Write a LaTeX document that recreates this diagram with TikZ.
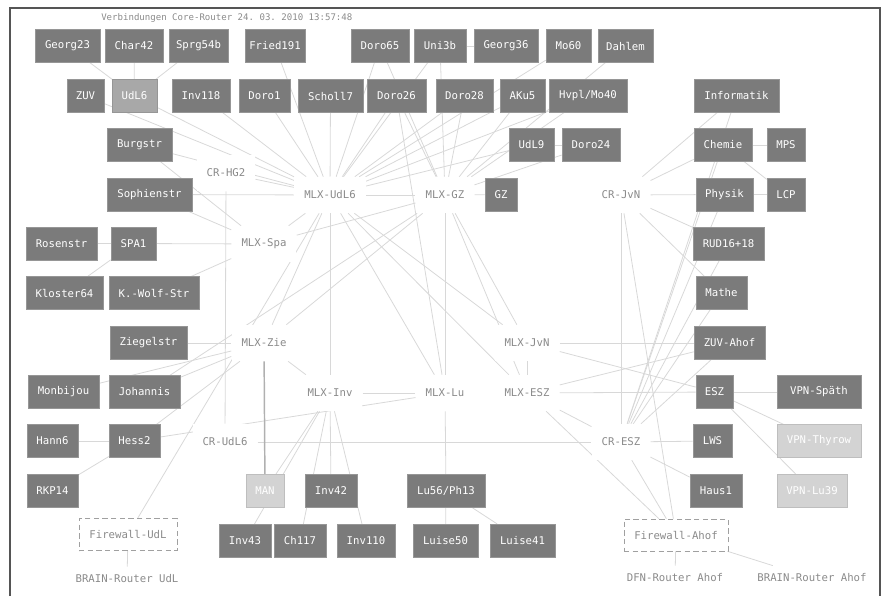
\documentclass[tikz,border=0pt]{standalone}
\usepackage{fontspec}
\setmonofont{DejaVu Sans Mono}
\usetikzlibrary{backgrounds}
\definecolor{boxgray}{HTML}{7B7B7B}
\definecolor{boxline}{HTML}{969696}
\definecolor{lightbox}{HTML}{A8A8A8}
\definecolor{palebox}{HTML}{D3D3D3}
\definecolor{labgray}{HTML}{8A8A8A}
\definecolor{edgegray}{HTML}{D8D8D8}
\definecolor{dashgray}{HTML}{A0A0A0}
\definecolor{manline}{HTML}{B0B0B0}
\definecolor{framegray}{HTML}{555555}
\begin{document}
\begin{tikzpicture}[x=0.75pt,y=-0.75pt,
  txt/.style={font=\ttfamily\fontsize{8}{9}\selectfont},
  box/.style={txt,draw=boxline,fill=boxgray,text=white,inner sep=0pt,minimum height=24.4pt},
  lbox/.style={box,fill=lightbox},
  pbox/.style={box,fill=palebox,draw=palebox!90!black},
  bw/.style={minimum width=#1*0.75pt},
  rtr/.style={txt,fill=white,text=labgray,inner xsep=7.5pt,inner ysep=0pt,minimum height=27pt},
  fw/.style={txt,draw=dashgray,dash pattern=on 4pt off 2.5pt,text=labgray,inner sep=0pt,minimum height=24pt},
  plain/.style={txt,text=labgray,inner xsep=2pt,inner ysep=6pt},
  ttl/.style={font=\ttfamily\fontsize{6.8}{8}\selectfont,text=labgray,inner sep=0pt},
  edge/.style={draw=edgegray,line width=0.6pt},
  thick edge/.style={draw=manline,line width=1.1pt},
  frame/.style={draw=framegray,line width=1.2pt}]
\useasboundingbox (0,0) rectangle (885,596);
\draw[frame] (10,596) -- (10,8) -- (880,8) -- (880,596);
\node[ttl,anchor=west] (title) at (101,18) {Verbindungen Core-Router 24. 03. 2010 13:57:48};

% row 1
\node[box,bw=65] (georg23) at (67.5,46) {Georg23};
\node[box,bw=58] (char42) at (134,46) {Char42};
\node[box,bw=59] (sprg54b) at (198.5,46) {Sprg54b};
\node[box,bw=60] (fried191) at (275,46) {Fried191};
\node[box,bw=58] (doro65) at (380,46) {Doro65};
\node[box,bw=52] (uni3b) at (440,46) {Uni3b};
\node[box,bw=64] (georg36) at (506,46) {Georg36};
\node[box,bw=45] (mo60) at (568.5,46) {Mo60};
\node[box,bw=55] (dahlem) at (625.5,46) {Dahlem};
% row 2
\node[box,bw=37] (zuv) at (85.5,96) {ZUV};
\node[lbox,bw=45] (udl6) at (134.5,96) {UdL6};
\node[box,bw=58] (inv118) at (201,96) {Inv118};
\node[box,bw=51] (doro1) at (264.5,96) {Doro1};
\node[box,bw=65] (scholl7) at (330.5,96) {Scholl7};
\node[box,bw=59] (doro26) at (396.5,96) {Doro26};
\node[box,bw=57] (doro28) at (464.5,96) {Doro28};
\node[box,bw=45] (aku5) at (522.5,96) {AKu5};
\node[box,bw=78] (hvpl) at (588,96) {Hvpl/Mo40};
\node[box,bw=85] (informatik) at (736.5,96) {Informatik};
% row 3
\node[box,bw=65] (burgstr) at (139.5,145) {Burgstr};
\node[box,bw=45] (udl9) at (531.5,145) {UdL9};
\node[box,bw=58] (doro24) at (591,145) {Doro24};
\node[box,bw=58] (chemie) at (723,145) {Chemie};
\node[box,bw=38] (mps) at (786,145) {MPS};
\node[rtr] (crhg2) at (226,173) {CR-HG2};
% row 4
\node[box,bw=85] (sophienstr) at (149.5,194.5) {Sophienstr};
\node[rtr] (mlxudl6) at (330,195) {MLX-UdL6};
\node[rtr] (mlxgz) at (445,195) {MLX-GZ};
\node[box,bw=32] (gz) at (501,194.5) {GZ};
\node[rtr] (crjvn) at (621,195) {CR-JvN};
\node[box,bw=57] (physik) at (724.5,194.5) {Physik};
\node[box,bw=38] (lcp) at (786,194.5) {LCP};
% row 5
\node[box,bw=71] (rosenstr) at (61.5,243.5) {Rosenstr};
\node[box,bw=45] (spa1) at (133.5,243.5) {SPA1};
\node[rtr] (mlxspa) at (264,244) {MLX-Spa};
\node[box,bw=71] (rud) at (728.5,243.5) {RUD16+18};
% row 6
\node[box,bw=77] (kloster64) at (64.5,293) {Kloster64};
\node[box,bw=90] (kwolf) at (154,293) {K.-Wolf-Str};
\node[box,bw=51] (mathe) at (721.5,293) {Mathe};
% row 7
\node[box,bw=77] (ziegelstr) at (148.5,343) {Ziegelstr};
\node[rtr] (mlxzie) at (264,343) {MLX-Zie};
\node[rtr] (mlxjvn) at (527,343) {MLX-JvN};
\node[box,bw=71] (zuvahof) at (729.5,343) {ZUV-Ahof};
% row 8
\node[box,bw=71] (monbijou) at (63.5,392) {Monbijou};
\node[box,bw=71] (johannis) at (144.5,392) {Johannis};
\node[rtr] (mlxinv) at (330,393) {MLX-Inv};
\node[rtr] (mlxlu) at (445,393) {MLX-Lu};
\node[rtr] (mlxesz) at (527,393) {MLX-ESZ};
\node[box,bw=37] (esz) at (714.5,392) {ESZ};
\node[box,bw=84] (vpnspaeth) at (819,392) {VPN-Späth};
% row 9
\node[box,bw=51] (hann6) at (52.5,441) {Hann6};
\node[box,bw=51] (hess2) at (134.5,441) {Hess2};
\node[rtr] (crudl6) at (225,442) {CR-UdL6};
\node[rtr] (cresz) at (621,442) {CR-ESZ};
\node[box,bw=39] (lws) at (712.5,441) {LWS};
\node[pbox,bw=84] (vpnthyrow) at (819,441) {VPN-Thyrow};
% row 10
\node[box,bw=51] (rkp14) at (52.5,490.5) {RKP14};
\node[pbox,bw=38] (man) at (265,490.5) {MAN};
\node[box,bw=52] (inv42) at (331,490.5) {Inv42};
\node[box,bw=78] (lu56) at (446,490.5) {Lu56/Ph13};
\node[box,bw=52] (haus1) at (716,490.5) {Haus1};
\node[pbox,bw=70] (vpnlu39) at (812,490.5) {VPN-Lu39};
% row 11
\node[fw,bw=98] (fwudl) at (128,534.5) {Firewall-UdL};
\node[box,bw=52] (inv43) at (245,540.5) {Inv43};
\node[box,bw=52] (ch117) at (300,540.5) {Ch117};
\node[box,bw=58] (inv110) at (366,540.5) {Inv110};
\node[box,bw=65] (luise50) at (445.5,540.5) {Luise50};
\node[box,bw=65] (luise41) at (522.5,540.5) {Luise41};
\node[fw,bw=104] (fwahof) at (676,535) {Firewall-Ahof};
% row 12
\node[plain] (brainudl) at (127,579) {BRAIN-Router UdL};
\node[plain] (dfnahof) at (675,578) {DFN-Router Ahof};
\node[plain] (brainahof) at (812,578) {BRAIN-Router Ahof};

\begin{scope}[on background layer]
\foreach \a/\b in {
  georg23/udl6, char42/udl6, sprg54b/udl6, udl6/mlxudl6, zuv/mlxudl6,
  inv118/mlxudl6, doro1/mlxudl6, fried191/mlxudl6, scholl7/mlxudl6,
  doro65/mlxudl6, doro65/mlxgz, doro26/mlxudl6, doro26/mlxgz, doro26/mlxlu,
  uni3b/mlxudl6, uni3b/mlxgz, uni3b/georg36, doro28/mlxudl6, doro28/mlxgz,
  aku5/mlxudl6, aku5/mlxgz, hvpl/mlxudl6, hvpl/mlxgz, mo60/mlxudl6, dahlem/mlxgz,
  udl9/mlxudl6, udl9/doro24, doro24/mlxgz, gz/mlxgz,
  burgstr/mlxudl6, burgstr/mlxspa, sophienstr/mlxudl6, sophienstr/mlxspa,
  rosenstr/spa1, spa1/mlxspa, kloster64/spa1, kwolf/mlxspa,
  crhg2/mlxudl6, crhg2/crudl6, mlxudl6/mlxgz, mlxspa/mlxudl6, mlxspa/mlxgz,
  mlxzie/mlxudl6, mlxzie/mlxgz, mlxudl6/mlxinv, mlxudl6/mlxlu, mlxudl6/mlxjvn,
  mlxudl6/mlxesz, mlxgz/mlxlu, mlxgz/mlxjvn, mlxgz/mlxesz, mlxgz/johannis,
  fwudl/mlxudl6, fwudl/brainudl, ziegelstr/mlxzie, monbijou/mlxzie,
  johannis/mlxzie, hess2/mlxzie, hann6/hess2, rkp14/hess2, hess2/mlxlu,
  mlxzie/mlxinv, mlxinv/mlxlu, mlxinv/man, mlxinv/inv43, mlxinv/ch117,
  mlxinv/inv42, mlxinv/inv110, mlxlu/lu56, lu56/luise50, lu56/luise41,
  crudl6/cresz, mlxjvn/mlxesz, mlxjvn/zuvahof, mlxjvn/esz, mlxesz/esz,
  mlxesz/zuvahof, mlxesz/cresz, mlxesz/fwahof,
  crjvn/informatik, crjvn/chemie, crjvn/physik, crjvn/rud, crjvn/mathe,
  crjvn/cresz, crjvn/fwahof, chemie/mps, chemie/lcp, physik/lcp,
  informatik/cresz, chemie/cresz, physik/cresz, rud/cresz, mathe/cresz,
  zuvahof/cresz, cresz/lws, cresz/haus1, cresz/fwahof,
  esz/vpnspaeth, esz/vpnthyrow, esz/vpnlu39, fwahof/dfnahof, fwahof/brainahof}
  \draw[edge] (\a) -- (\b);
\draw[thick edge] (mlxzie) -- (man);
\end{scope}
\end{tikzpicture}
\end{document}
